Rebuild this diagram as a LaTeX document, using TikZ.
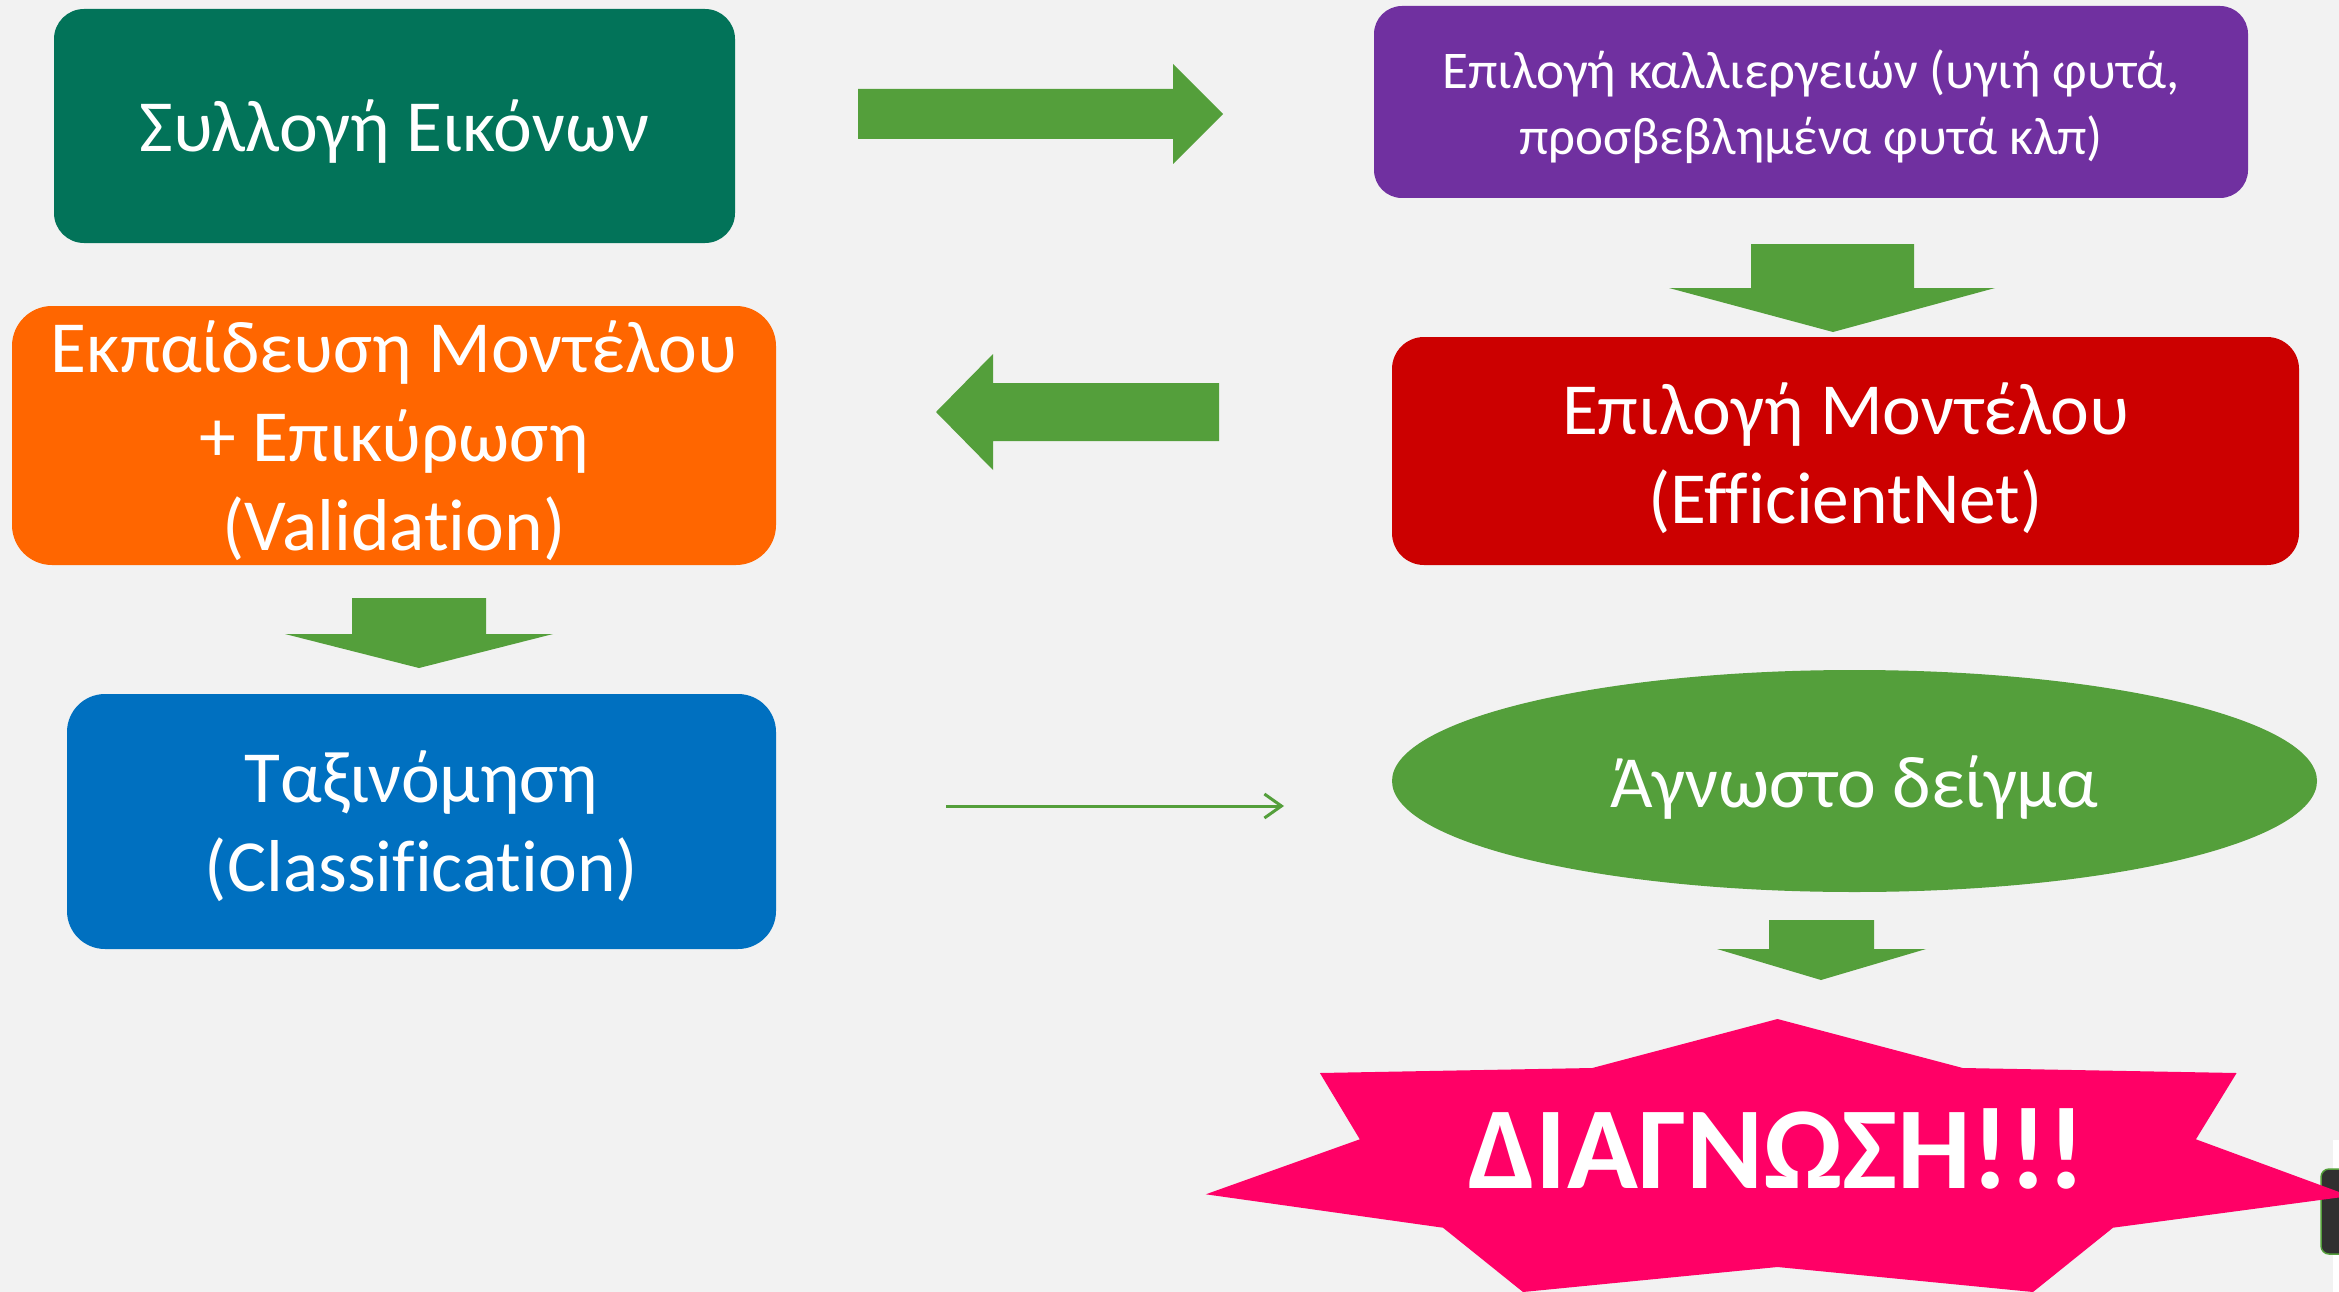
\documentclass[tikz,border=0pt]{standalone}
\usepackage{fontspec}
\setmainfont[Ligatures={NoCommon}]{Carlito}
\usetikzlibrary{arrows.meta,shapes.geometric}
\definecolor{bgc}{RGB}{242,242,242}
\definecolor{cteal}{RGB}{2,115,89}
\definecolor{cpurple}{RGB}{112,48,160}
\definecolor{corange}{RGB}{255,102,0}
\definecolor{cred}{RGB}{204,0,0}
\definecolor{cblue}{RGB}{0,112,192}
\definecolor{cgreen}{RGB}{84,159,59}
\definecolor{cpink}{RGB}{255,0,102}
\definecolor{cdark}{RGB}{48,48,48}
\begin{document}
\begin{tikzpicture}[x=1pt,y=-1pt,
  box/.style={rectangle, inner sep=0pt, text=white, align=center},
  bigtxt/.style={font=\fontsize{73.5}{89}\selectfont},
  smalltxt/.style={font=\fontsize{53}{66}\selectfont},
  blockarrow/.style={fill=cgreen}
]
\useasboundingbox (0,0) rectangle (2339,1292);
\clip (0,0) rectangle (2339,1292);
\fill[bgc] (0,0) rectangle (2339,1292);
% right edge artefacts
\fill[white] (2333,1140) rectangle (2339,1292);
\fill[cdark, draw=cgreen, line width=1.5pt, rounded corners=8pt] (2321,1169) rectangle (2360,1254);

% boxes
\node[box, bigtxt, fill=cteal, rounded corners=30pt, minimum width=681pt, minimum height=234pt] (collect) at (394.5,126) {};
\node[box, bigtxt, anchor=center, yshift=-6pt] at (collect.center) {Συλλογή Εικόνων};
\node[box, smalltxt, fill=cpurple, rounded corners=28pt, minimum width=874pt, minimum height=192pt] (crops) at (1811,102) {};
\node[box, smalltxt, yshift=-5pt] at (crops.center) {Επιλογή καλλιεργειών (υγιή φυτά,\\προσβεβλημένα φυτά κλπ)};
\node[box, bigtxt, fill=corange, rounded corners=40pt, minimum width=764pt, minimum height=259pt] (train) at (394,435.5) {};
\node[box, bigtxt, yshift=-5pt] at (train.center) {Εκπαίδευση Μοντέλου\\+ Επικύρωση\\(Validation)};
\node[box, bigtxt, fill=cred, rounded corners=32pt, minimum width=907pt, minimum height=228pt] (model) at (1845.5,451) {};
\node[box, bigtxt, yshift=-7pt] at (model.center) {Επιλογή Μοντέλου\\(EfficientNet)};
\node[box, bigtxt, fill=cblue, rounded corners=38pt, minimum width=709pt, minimum height=255pt] (classify) at (421.5,821.5) {};
\node[box, bigtxt, yshift=-5pt] at (classify.center) {Ταξινόμηση\\(Classification)};
\node[ellipse, inner sep=0pt, fill=cgreen, minimum width=925pt, minimum height=222pt] (sample) at (1854.5,781) {};
\node[box, bigtxt, yshift=-7pt] at (sample.center) {Άγνωστο δείγμα};

% block arrows
\fill[blockarrow] (858,89) -- (1173,89) -- (1173,64) -- (1223,114) -- (1173,164) -- (1173,139) -- (858,139) -- cycle;
\fill[blockarrow] (1219,383) -- (993,383) -- (993,354) -- (936,412) -- (993,470) -- (993,441) -- (1219,441) -- cycle;
\fill[blockarrow] (1751,244) -- (1914,244) -- (1914,288) -- (1995,288) -- (1833,332) -- (1669,288) -- (1751,288) -- cycle;
\fill[blockarrow] (352,598) -- (486,598) -- (486,634) -- (553,634) -- (419,668) -- (285,634) -- (352,634) -- cycle;
\fill[blockarrow] (1769,920) -- (1874,920) -- (1874,949) -- (1926,949) -- (1821,980) -- (1717,949) -- (1769,949) -- cycle;

% thin arrow
\coordinate (ta) at (946,806);
\coordinate (tb) at (1284,806);
\draw[cgreen, line width=3pt, -{Straight Barb[length=17pt,width=24pt,line width=3pt]}] (ta) -- (tb);

% star
\fill[cpink] (1777.5,1019) -- (1962.7,1068) -- (2236.6,1073) -- (2195.9,1139.3) -- (2350,1196) -- (2113,1227.7) -- (2033,1292) -- (1777.5,1267) -- (1523,1292) -- (1443,1227.7) -- (1205.8,1194.3) -- (1359.8,1139.3) -- (1319.9,1073) -- (1592.3,1068) -- cycle;
\node[text=white, inner sep=0pt, anchor=base, font=\fontsize{117}{130}\selectfont\bfseries] (diag) at (1777,1188) {ΔΙΑΓΝΩΣΗ!!!};
\end{tikzpicture}
\end{document}
